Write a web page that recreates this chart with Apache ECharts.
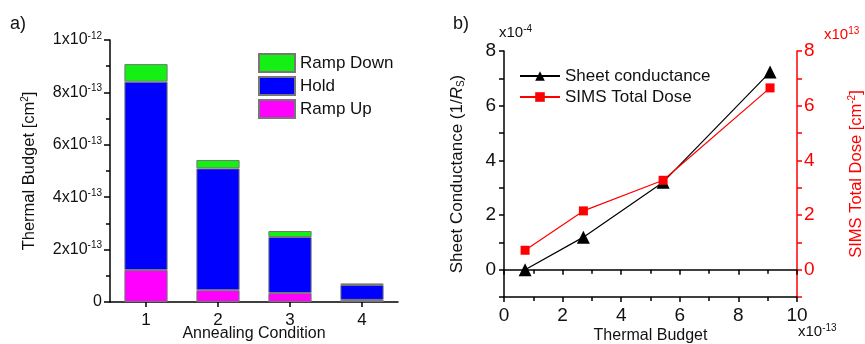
<!DOCTYPE html>
<html><head><meta charset="utf-8">
<script src="https://cdn.jsdelivr.net/npm/echarts@6/dist/echarts.min.js"></script>
<style>html,body{margin:0;padding:0;background:#fff}#c{width:865px;height:344px}</style>
</head><body><div id="c"></div>
<script>
// Panel a) stacked bars, values in units of 1e-13 cm^2
const categories = ['1', '2', '3', '4'];
const rampUp   = [1.22, 0.45, 0.34, 0.08];
const hold     = [7.19, 4.65, 2.14, 0.57];
const rampDown = [0.67, 0.32, 0.23, 0.06];
// Panel b) x = thermal budget (1e-13), y1 = sheet conductance (1e-4), y2 = SIMS dose (1e13)
const thermalBudget    = [0.72, 2.71, 5.43, 9.08];
const sheetConductance = [0.0, 1.19, 3.2, 7.23];
const simsDose         = [0.71, 2.15, 3.27, 6.65];
const yTicksB = [0, 2, 4, 6, 8];

const FONT = 'Arial, "Liberation Sans", sans-serif';
const supRich = { sup: { fontSize: 10, verticalAlign: 'top', padding: [0, 0, 8, 0], fontFamily: FONT } };

const chart = echarts.init(document.getElementById('c'), null, { renderer: 'canvas' });

const pts1 = thermalBudget.map((x, i) => [x, sheetConductance[i]]);
const pts2 = thermalBudget.map((x, i) => [x, simsDose[i]]);

const barStyle = (c) => ({ color: c, borderColor: '#777', borderWidth: 1 });

chart.setOption({
  animation: false,
  textStyle: { fontFamily: FONT },
  grid: [
    { left: 110, right: 467, top: 40, bottom: 42, containLabel: false, outerBoundsMode: 'none' },
    { left: 504, right: 68, top: 51, bottom: 47, containLabel: false, outerBoundsMode: 'none' }
  ],
  legend: [
    {
      data: ['Ramp Down', 'Hold', 'Ramp Up'], orient: 'vertical', left: 258, top: 53, padding: 0,
      icon: 'rect', itemWidth: 36, itemHeight: 18, itemGap: 3,
      textStyle: { fontSize: 17, lineHeight: 18, color: '#111', fontFamily: FONT }
    },
    {
      data: ['Sheet conductance', 'SIMS Total Dose'], orient: 'vertical', left: 519, top: 67, padding: 0,
      itemWidth: 40, itemHeight: 12, itemGap: 3,
      textStyle: { fontSize: 17, lineHeight: 18, color: '#111', fontFamily: FONT }
    }
  ],
  xAxis: [
    {
      type: 'category', gridIndex: 0, data: categories, boundaryGap: true,
      name: 'Annealing Condition', nameLocation: 'middle', nameGap: 24, nameMoveOverlap: false,
      nameTextStyle: { fontSize: 16, color: '#111', fontFamily: FONT },
      axisLine: { lineStyle: { color: '#000', width: 1.5 } },
      axisTick: { show: true, alignWithLabel: true, length: 5, lineStyle: { color: '#000', width: 1.5 } },
      axisLabel: { fontSize: 17, color: '#111', margin: 10, fontFamily: FONT },
      splitLine: { show: false }
    },
    {
      type: 'value', gridIndex: 1, min: 0, max: 10, interval: 2,
      name: 'Thermal Budget', nameLocation: 'middle', nameGap: 31, nameMoveOverlap: false,
      nameTextStyle: { fontSize: 16, color: '#111', fontFamily: FONT },
      axisLine: { onZero: false, lineStyle: { color: '#000', width: 1.5 } },
      axisTick: { length: 5, lineStyle: { color: '#000', width: 1.5 } },
      minorTick: { show: true, splitNumber: 2, length: 4, lineStyle: { color: '#000', width: 1.5 } },
      axisLabel: { fontSize: 19, color: '#111', margin: 9, fontFamily: FONT },
      splitLine: { show: false }
    },
    {
      type: 'value', gridIndex: 1, min: 0, max: 10, interval: 2, position: 'top',
      axisLine: { lineStyle: { color: '#000', width: 1.5 } },
      axisTick: { inside: true, length: 5, lineStyle: { color: '#000', width: 1.5 } },
      minorTick: { show: true, splitNumber: 2, length: 4, lineStyle: { color: '#000', width: 1.5 } },
      axisLabel: { show: false }, splitLine: { show: false }
    }
  ],
  yAxis: [
    {
      type: 'value', gridIndex: 0, min: 0, max: 10, interval: 2,
      name: 'Thermal Budget [cm{sup|2}]', nameLocation: 'middle', nameGap: 72, nameRotate: 90,
      nameTextStyle: { fontSize: 16.5, color: '#111', fontFamily: FONT, rich: { sup: { fontSize: 10, verticalAlign: 'top', padding: [0, 0, 8, 0] } } },
      axisLine: { show: true, lineStyle: { color: '#000', width: 1.5 } },
      axisTick: { show: true, length: 6, lineStyle: { color: '#000', width: 1.5 } },
      minorTick: { show: true, splitNumber: 2, length: 4, lineStyle: { color: '#000', width: 1.5 } },
      axisLabel: {
        fontSize: 16, color: '#111', margin: 8, fontFamily: FONT, rich: supRich,
        formatter: (v) => v === 0 ? '0' : (v === 10 ? '1x10{sup|-12}' : v + 'x10{sup|-13}')
      },
      splitLine: { show: false }
    },
    {
      type: 'value', gridIndex: 1, min: -1, max: 8, interval: 1,
      name: 'Sheet Conductance (1/{i|R}{sub|S})', nameLocation: 'middle', nameGap: 38, nameRotate: 90,
      nameTextStyle: {
        fontSize: 17, color: '#111', fontFamily: FONT,
        rich: { i: { fontSize: 17, fontStyle: 'italic', color: '#111' }, sub: { fontSize: 10, verticalAlign: 'bottom', padding: [6, 0, 0, 0], color: '#111' } }
      },
      axisLine: { show: true, onZero: false, lineStyle: { color: '#000', width: 1.5 } },
      axisTick: { show: true, length: 5, lineStyle: { color: '#000', width: 1.5 } },
      axisLabel: { fontSize: 19, color: '#111', margin: 8, fontFamily: FONT, customValues: yTicksB },
      splitLine: { show: false }
    },
    {
      type: 'value', gridIndex: 1, min: -1, max: 8, interval: 1, position: 'right',
      name: 'SIMS Total Dose [cm{sup|-2}]', nameLocation: 'middle', nameGap: 50, nameRotate: 90,
      nameTextStyle: { fontSize: 16.5, color: '#ff0000', fontFamily: FONT, rich: { sup: { fontSize: 10, verticalAlign: 'top', padding: [0, 0, 8, 0], color: '#ff0000' } } },
      axisLine: { show: true, onZero: false, lineStyle: { color: '#ff0000', width: 1.5 } },
      axisTick: { show: true, length: 5, lineStyle: { color: '#ff0000', width: 1.5 } },
      axisLabel: { fontSize: 19, color: '#ff0000', margin: 7, fontFamily: FONT, customValues: yTicksB },
      splitLine: { show: false }
    }
  ],
  series: [
    { name: 'Ramp Up', type: 'bar', stack: 'tb', xAxisIndex: 0, yAxisIndex: 0, data: rampUp, barWidth: '60%', itemStyle: barStyle('#ff00ff') },
    { name: 'Hold', type: 'bar', stack: 'tb', xAxisIndex: 0, yAxisIndex: 0, data: hold, barWidth: '60%', itemStyle: barStyle('#0000ff') },
    { name: 'Ramp Down', type: 'bar', stack: 'tb', xAxisIndex: 0, yAxisIndex: 0, data: rampDown, barWidth: '60%', itemStyle: barStyle('#14f014') },
    {
      name: 'Sheet conductance', type: 'line', xAxisIndex: 1, yAxisIndex: 1, data: pts1,
      symbol: 'triangle', symbolSize: 13, lineStyle: { color: '#000', width: 1.2 }, itemStyle: { color: '#000' }
    },
    {
      name: 'SIMS Total Dose', type: 'line', xAxisIndex: 1, yAxisIndex: 2, data: pts2,
      symbol: 'rect', symbolSize: 9, lineStyle: { color: '#ff0000', width: 1.2 }, itemStyle: { color: '#ff0000' }
    }
  ],
  graphic: [
    { type: 'text', left: 10, top: 15, style: { text: 'a)', fontSize: 18, fill: '#111', fontFamily: FONT } },
    { type: 'text', left: 453, top: 15, style: { text: 'b)', fontSize: 18, fill: '#111', fontFamily: FONT } },
    { type: 'text', left: 499, top: 24, style: { text: 'x10{s|-4}', fontSize: 15, fill: '#111', fontFamily: FONT, rich: { s: { fontSize: 10, verticalAlign: 'top', padding: [0, 0, 8, 0], fill: '#111' } } } },
    { type: 'text', left: 824, top: 26, style: { text: 'x10{s|13}', fontSize: 15, fill: '#ff0000', fontFamily: FONT, rich: { s: { fontSize: 10, verticalAlign: 'top', padding: [0, 0, 8, 0], fill: '#ff0000' } } } },
    { type: 'text', left: 798, top: 323, style: { text: 'x10{s|-13}', fontSize: 15, fill: '#111', fontFamily: FONT, rich: { s: { fontSize: 10, verticalAlign: 'top', padding: [0, 0, 8, 0], fill: '#111' } } } }
  ]
});
</script></body></html>
